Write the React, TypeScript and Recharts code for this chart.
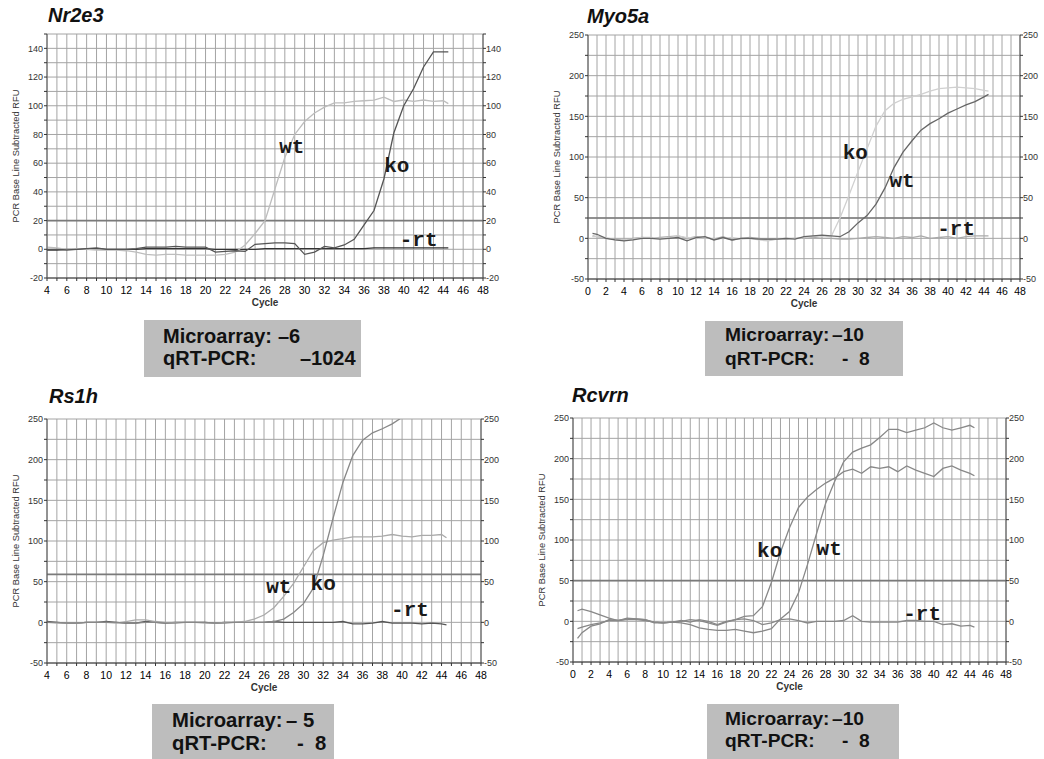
import React from 'react';
import {
  LineChart,
  Line,
  XAxis,
  YAxis,
  CartesianGrid,
  ReferenceLine,
  ReferenceDot,
} from 'recharts';

// ---- axis ticks ----
const xTicksFrom4 = [4, 5, 6, 7, 8, 9, 10, 11, 12, 13, 14, 15, 16, 17, 18, 19, 20, 21, 22, 23, 24, 25, 26, 27, 28, 29, 30, 31, 32, 33, 34, 35, 36, 37, 38, 39, 40, 41, 42, 43, 44, 45, 46, 47, 48];
const xTicksFrom0 = [0, 1, 2, 3, ...xTicksFrom4];
const xLabels = [0, 2, 4, 6, 8, 10, 12, 14, 16, 18, 20, 22, 24, 26, 28, 30, 32, 34, 36, 38, 40, 42, 44, 46, 48];
const yTicksNr = [-20, -10, 0, 10, 20, 30, 40, 50, 60, 70, 80, 90, 100, 110, 120, 130, 140, 150];
const yLabelsNr = [-20, 0, 20, 40, 60, 80, 100, 120, 140];
const yTicks250 = [-50, -25, 0, 25, 50, 75, 100, 125, 150, 175, 200, 225, 250];
const yLabels250 = [-50, 0, 50, 100, 150, 200, 250];

// ---- Nr2e3 ----
const nrCycles = [4, 5, 6, 7, 8, 9, 10, 11, 12, 13, 14, 15, 16, 17, 18, 19, 20, 21, 22, 23, 24, 25, 26, 27, 28, 29, 30, 31, 32, 33, 34, 35, 36, 37, 38, 39, 40, 41, 42, 43, 44, 44.5];
const nrWt = [1.5, 1, 0, 0.5, 0, -0.5, -0.5, -0.5, -1, -2, -3.5, -4, -3.5, -3.5, -4, -4, -4, -4, -3.5, -2, 3, 11, 20, 42, 64, 80, 89, 95, 99, 102, 102, 103, 103.5, 104, 106, 103, 104, 103, 104, 103, 103.5, 101.5];
const nrKo = [0, 0, -0.5, 0, 0.5, 1, 0, 0, 0, 0.5, 1.5, 1.5, 1.5, 2, 1.5, 1.5, 1.5, -2, -1.5, -1, -1.5, 3.5, 4, 4.5, 4.5, 4, -3.5, -2, 2, 1, 3, 7, 17, 27, 49, 81, 100, 112, 127, 137.5, 137.5, 137.5];
const nrRt = [-0.5, -0.5, 0, 0, 0.5, 0.5, 0, 0, 0, 0, 0.5, 0.5, 0.5, 0.5, 0.5, 0.5, 0.5, 0, 0, 0, 0, 0, 0.5, 0.5, 0.5, 0.5, 0.5, 0.5, 0.5, 0.5, 0.5, 0.5, 0.5, 1, 1, 1, 1, 1, 1, 1, 1, 1];

// ---- Myo5a ----
const myCycles = [0.5, 1, 2, 3, 4, 5, 6, 7, 8, 9, 10, 11, 12, 13, 14, 15, 16, 17, 18, 19, 20, 21, 22, 23, 24, 25, 26, 27, 28, 29, 30, 31, 32, 33, 34, 35, 36, 37, 38, 39, 40, 41, 42, 43, 44, 44.5];
const myWt = [6, 5, 0, -2, -3, -2, 0, 0, -1, 0, 1, -3, 1, 2, -2, 1, -2, 0, 0, -1, -1, -1, 0, -1, 2, 3, 4, 3, 2, 8, 19, 28, 42, 62, 87, 106, 120, 133, 141, 147, 154, 159, 164, 168, 174, 177];
const myKo = [2, 2, 1, -2, -2, -1, 1, 1, 0, 1, 3, 1, 0, 1, -1, 0, 1, -1, 0, -2, -3, -1, 0, 0, 1, 2, 3, 2, 25, 53, 82, 110, 138, 157, 166, 171, 174, 177, 181, 184, 185, 186, 185, 184, 182, 181];
const myRt = [3, 2, 0, -1, -2, 0, 1, 0, 1, 2, 3, 0, 2, 1, -1, 2, -2, 0, 1, 0, -2, -1, -1, 0, 0, 1, 0, 0, -1, -1, 0, 1, 2, 1, 0, 2, 1, 3, 0, 1, 2, 0, 2, 3, 3, 3];

// ---- Rs1h ----
const rsCycles = nrCycles;
const rsWt = [0, -1, -1, -1, 0, 0, 0, -1, 1, 3, 3, 1, 0, 0, 0, 0, -1, -1, 0, 0, 1, 4, 9, 18, 32, 48, 68, 88, 98, 101, 103, 105, 105, 105, 106, 108, 106, 105, 107, 107, 108, 104];
const rsKo = [0, 0, -1, -1, 0, 0, 0, 0, -1, -1, 0, 0, -1, -1, 0, 0, 0, -1, -1, 0, 0, 0, 0, 1, 4, 12, 23, 42, 82, 128, 172, 205, 224, 233, 238, 244, 252, 257, 261, 264, 266, 268];
const rsRt = [1, 0, -1, -1, 0, 0, 1, 0, -1, -1, 1, 0, -1, 0, 0, 0, 0, -1, 0, 0, 0, 0, 0, 1, 0, 0, 0, 0, 0, 0, 1, -2, -2, -1, 1, -1, -1, -1, -2, -1, -2, -3];

// ---- Rcvrn ----
const rcCycles = myCycles;
const rcKo = [-9, -7, -4, -2, 1, 1, 4, 3, 2, -1, -2, -1, 0, 2, 1, -2, -5, -1, 2, 6, 7, 18, 48, 85, 115, 140, 153, 162, 170, 176, 184, 187, 182, 190, 188, 190, 184, 191, 186, 182, 178, 188, 191, 186, 182, 179];
const rcWt = [-21, -14, -6, -3, 2, 1, 3, 3, 2, -2, -2, -1, -2, -4, -8, -10, -11, -11, -10, -12, -14, -12, -9, 3, 12, 35, 70, 108, 145, 172, 196, 208, 213, 217, 226, 236, 236, 232, 235, 238, 244, 238, 235, 238, 241, 238];
const rcRt = [13, 15, 12, 8, 4, 1, 2, 2, 1, -1, -2, -1, 1, -1, 2, 0, -4, 0, 2, 3, 1, -4, -2, 2, 3, 1, -2, 0, 0, 0, 1, 7, 0, -1, -1, -1, -1, 1, 1, 0, 0, -4, -3, -6, -5, -7];

type Series = { key: string; values: number[]; color: string };
type Tag = { text: string; x: number; y: number };

function SideTitle(props: any) {
  const vb = props.viewBox || {};
  const x = vb.x + vb.width - 31;
  const y = vb.y + vb.height / 2;
  return (
    <text
      x={x}
      y={y}
      transform={`rotate(-90, ${x}, ${y})`}
      textAnchor="middle"
      dominantBaseline="central"
      fontSize={9.3}
      fill="#333"
      fontFamily="Liberation Sans, Arial, sans-serif"
    >
      PCR Base Line Subtracted RFU
    </text>
  );
}

function TagText(props: any) {
  const vb = props.viewBox || {};
  const x = vb.x + (vb.width || 0) / 2;
  const y = vb.y + (vb.height || 0) / 2;
  return (
    <text
      x={x}
      y={y}
      textAnchor="middle"
      dominantBaseline="central"
      fontSize={21}
      fontWeight={700}
      fill="#1a1a1a"
      fontFamily="Liberation Mono, Courier New, monospace"
    >
      {props.text}
    </text>
  );
}

function Panel(p: {
  left: number;
  top: number;
  width: number;
  height: number;
  marginTop: number;
  leftW: number;
  rightW: number;
  cycles: number[];
  xDomain: [number, number];
  xTicks: number[];
  yDomain: [number, number];
  yTicks: number[];
  yLabels: number[];
  threshold: number;
  series: Series[];
  tags: Tag[];
}) {
  const rows = p.cycles.map((c, i) => {
    const r: Record<string, number> = { c };
    p.series.forEach((s) => {
      r[s.key] = s.values[i];
    });
    return r;
  });
  const yFmt = (v: number) => (p.yLabels.includes(v) ? String(v) : '');
  const yTick = { fontSize: 9, fill: '#333', fontFamily: 'Liberation Sans, Arial, sans-serif' };

  return (
    <div style={{ position: 'absolute', left: p.left, top: p.top }}>
      <LineChart
        width={p.width}
        height={p.height}
        data={rows}
        margin={{ top: p.marginTop, right: 0, bottom: 0, left: 0 }}
      >
        <CartesianGrid stroke="#a4a4a4" />
        <XAxis
          dataKey="c"
          type="number"
          domain={p.xDomain}
          ticks={p.xTicks}
          interval={0}
          allowDataOverflow
          height={34}
          tickSize={3}
          tickMargin={6}
          tickFormatter={(v: number) => (xLabels.includes(v) ? String(v) : '')}
          tick={{ fontSize: 10.5, fill: '#000', fontFamily: 'Liberation Sans, Arial, sans-serif' }}
          axisLine={{ stroke: '#333' }}
          tickLine={{ stroke: '#333' }}
          label={{
            value: 'Cycle',
            position: 'insideBottom',
            offset: 6,
            fontSize: 10,
            fontWeight: 700,
            fill: '#333',
            fontFamily: 'Liberation Sans, Arial, sans-serif',
          }}
        />
        <YAxis
          type="number"
          domain={p.yDomain}
          ticks={p.yTicks}
          interval={0}
          allowDataOverflow
          width={p.leftW}
          tickSize={3}
          tickMargin={1}
          tickFormatter={yFmt}
          tick={yTick}
          axisLine={{ stroke: '#555' }}
          tickLine={{ stroke: '#333' }}
          label={<SideTitle />}
        />
        <YAxis
          yAxisId="r"
          orientation="right"
          type="number"
          domain={p.yDomain}
          ticks={p.yTicks}
          interval={0}
          allowDataOverflow
          width={p.rightW}
          tickSize={3}
          tickMargin={0}
          tickFormatter={yFmt}
          tick={yTick}
          axisLine={{ stroke: '#555' }}
          tickLine={{ stroke: '#333' }}
        />
        <ReferenceLine y={p.threshold} stroke="#7a7a7a" strokeWidth={1.6} />
        {p.series.map((s) => (
          <Line
            key={s.key}
            dataKey={s.key}
            type="linear"
            stroke={s.color}
            strokeWidth={1.3}
            dot={false}
            isAnimationActive={false}
          />
        ))}
        {p.tags.map((t) => (
          <ReferenceDot
            key={t.text}
            x={t.x}
            y={t.y}
            r={1}
            fill="none"
            stroke="none"
            label={<TagText text={t.text} />}
          />
        ))}
      </LineChart>
    </div>
  );
}

function Title({ left, top, text }: { left: number; top: number; text: string }) {
  return (
    <div
      style={{
        position: 'absolute',
        left,
        top,
        fontSize: 20,
        lineHeight: '20px',
        fontWeight: 700,
        fontStyle: 'italic',
        color: '#111',
      }}
    >
      {text}
    </div>
  );
}

function StatBox(p: {
  left: number;
  top: number;
  width: number;
  height: number;
  textLeft: number;
  fontSize: number;
  rows: { top: number; label: string; value: string; valueLeft: number }[];
}) {
  return (
    <>
      <div
        style={{
          position: 'absolute',
          left: p.left,
          top: p.top,
          width: p.width,
          height: p.height,
          background: '#bdbdbd',
        }}
      />
      {p.rows.map((r) => (
        <React.Fragment key={r.label}>
          <div
            style={{
              position: 'absolute',
              left: p.textLeft,
              top: r.top,
              fontSize: p.fontSize,
              lineHeight: '20px',
              fontWeight: 700,
              color: '#111',
              whiteSpace: 'pre',
            }}
          >
            {r.label}
          </div>
          <div
            style={{
              position: 'absolute',
              left: r.valueLeft,
              top: r.top,
              fontSize: p.fontSize,
              lineHeight: '20px',
              fontWeight: 700,
              color: '#111',
              whiteSpace: 'pre',
            }}
          >
            {r.value}
          </div>
        </React.Fragment>
      ))}
    </>
  );
}

export default function App() {
  return (
    <div
      style={{
        position: 'absolute',
        left: 0,
        top: 0,
        width: 1044,
        height: 759,
        background: '#fff',
        overflow: 'hidden',
        fontFamily: 'Liberation Sans, Arial, sans-serif',
      }}
    >
      <Title left={48} top={5} text="Nr2e3" />
      <Title left={587} top={6} text="Myo5a" />
      <Title left={49} top={386} text="Rs1h" />
      <Title left={572} top={385} text="Rcvrn" />

      <Panel
        left={0}
        top={0}
        width={520}
        height={312}
        marginTop={34}
        leftW={47}
        rightW={37}
        cycles={nrCycles}
        xDomain={[4, 48]}
        xTicks={xTicksFrom4}
        yDomain={[-20, 150]}
        yTicks={yTicksNr}
        yLabels={yLabelsNr}
        threshold={20}
        series={[
          { key: 'rt', values: nrRt, color: '#333' },
          { key: 'wt', values: nrWt, color: '#bdbdbd' },
          { key: 'ko', values: nrKo, color: '#555' },
        ]}
        tags={[
          { text: 'wt', x: 28.7, y: 71 },
          { text: 'ko', x: 39.3, y: 58 },
          { text: '-rt', x: 41.5, y: 6 },
        ]}
      />
      <Panel
        left={540}
        top={0}
        width={504}
        height={313}
        marginTop={35}
        leftW={48}
        rightW={24}
        cycles={myCycles}
        xDomain={[0, 48]}
        xTicks={xTicksFrom0}
        yDomain={[-50, 250]}
        yTicks={yTicks250}
        yLabels={yLabels250}
        threshold={25}
        series={[
          { key: 'rt', values: myRt, color: '#aaa' },
          { key: 'ko', values: myKo, color: '#d0d0d0' },
          { key: 'wt', values: myWt, color: '#666' },
        ]}
        tags={[
          { text: 'ko', x: 29.7, y: 104 },
          { text: 'wt', x: 34.9, y: 70 },
          { text: '-rt', x: 40.9, y: 11 },
        ]}
      />
      <Panel
        left={0}
        top={385}
        width={520}
        height={312}
        marginTop={34}
        leftW={47}
        rightW={39}
        cycles={rsCycles}
        xDomain={[4, 48]}
        xTicks={xTicksFrom4}
        yDomain={[-50, 250]}
        yTicks={yTicks250}
        yLabels={yLabels250}
        threshold={59}
        series={[
          { key: 'rt', values: rsRt, color: '#555' },
          { key: 'wt', values: rsWt, color: '#aaa' },
          { key: 'ko', values: rsKo, color: '#888' },
        ]}
        tags={[
          { text: 'wt', x: 27.5, y: 43 },
          { text: 'ko', x: 32, y: 46 },
          { text: '-rt', x: 40.8, y: 14 },
        ]}
      />
      <Panel
        left={525}
        top={384}
        width={519}
        height={312}
        marginTop={34}
        leftW={48}
        rightW={38}
        cycles={rcCycles}
        xDomain={[0, 48]}
        xTicks={xTicksFrom0}
        yDomain={[-50, 250]}
        yTicks={yTicks250}
        yLabels={yLabels250}
        threshold={50}
        series={[
          { key: 'rt', values: rcRt, color: '#888' },
          { key: 'ko', values: rcKo, color: '#888' },
          { key: 'wt', values: rcWt, color: '#888' },
        ]}
        tags={[
          { text: 'ko', x: 21.8, y: 86 },
          { text: 'wt', x: 28.4, y: 88 },
          { text: '-rt', x: 38.7, y: 9 },
        ]}
      />

      <StatBox
        left={144}
        top={320}
        width={217}
        height={57}
        textLeft={163}
        fontSize={20}
        rows={[
          { top: 326, label: 'Microarray:', value: '–6', valueLeft: 278 },
          { top: 348, label: 'qRT-PCR:', value: '–1024', valueLeft: 300 },
        ]}
      />
      <StatBox
        left={705}
        top={321}
        width={198}
        height={55}
        textLeft={725}
        fontSize={19.2}
        rows={[
          { top: 325, label: 'Microarray:', value: '–10', valueLeft: 832 },
          { top: 349, label: 'qRT-PCR:', value: '-  8', valueLeft: 842 },
        ]}
      />
      <StatBox
        left={152}
        top={704}
        width={182}
        height={55}
        textLeft={172}
        fontSize={20.3}
        rows={[
          { top: 710, label: 'Microarray:', value: '– 5', valueLeft: 286 },
          { top: 733, label: 'qRT-PCR:', value: '-  8', valueLeft: 297 },
        ]}
      />
      <StatBox
        left={707}
        top={704}
        width={192}
        height={55}
        textLeft={725}
        fontSize={19.2}
        rows={[
          { top: 709, label: 'Microarray:', value: '–10', valueLeft: 832 },
          { top: 731, label: 'qRT-PCR:', value: '-  8', valueLeft: 842 },
        ]}
      />
    </div>
  );
}
